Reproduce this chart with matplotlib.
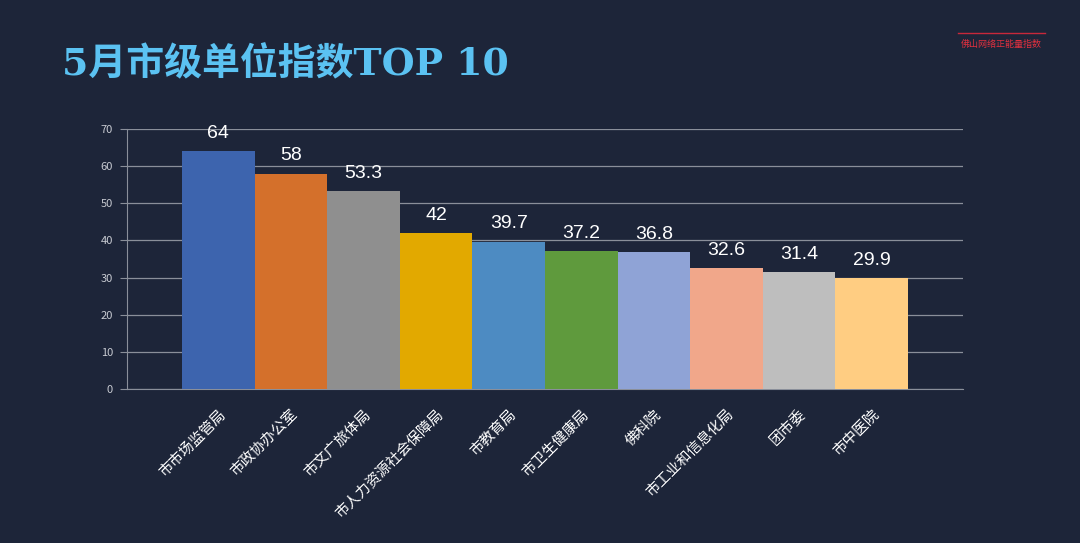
import matplotlib
matplotlib.use("Agg")
import matplotlib.pyplot as plt

plt.rcParams['font.family'] = ['Noto Sans CJK SC', 'DejaVu Sans']

categories = ["市市场监管局", "市政协办公室", "市文广旅体局", "市人力资源社会保障局", "市教育局",
              "市卫生健康局", "佛科院", "市工业和信息化局", "团市委", "市中医院"]
values = [64, 58, 53.3, 42, 39.7, 37.2, 36.8, 32.6, 31.4, 29.9]
value_labels = ["64", "58", "53.3", "42", "39.7", "37.2", "36.8", "32.6", "31.4", "29.9"]
colors = ["#3d64ae", "#d4702b", "#8f8f8f", "#e2a900", "#4d8bc2",
          "#5f9a3d", "#8fa3d6", "#f1a78a", "#bebebe", "#ffcd82"]
yticks = [0, 10, 20, 30, 40, 50, 60, 70]

bg = "#1d2539"
fig = plt.figure(figsize=(10.8, 5.43), dpi=100, facecolor=bg)
ax = fig.add_axes([127/1080, 1-389/543, (963-127)/1080, (389-129)/543])
ax.set_facecolor(bg)

x = list(range(len(categories)))
ax.bar(x, values, width=1.0, color=colors, zorder=3)
for xi, v, lab in zip(x, values, value_labels):
    ax.text(xi, v + 2.5, lab, ha='center', va='bottom', color='white', fontsize=14,
            family=['Liberation Sans', 'DejaVu Sans'], zorder=4)

ax.set_ylim(0, 70)
ax.set_xlim(-1.257, len(categories) - 1 + 1.257)
ax.set_yticks(yticks)
ax.set_yticklabels([str(t) for t in yticks], color='#c8cbd2', fontsize=8)
ax.yaxis.grid(True, color='#8a8f9a', linewidth=0.9, zorder=1)
ax.tick_params(axis='y', length=5, color='#8a8f9a', pad=5)
ax.set_xticks(x)
ax.set_xticklabels(categories, rotation=45, ha='right', rotation_mode='anchor',
                   color='white', fontsize=10.5)
ax.tick_params(axis='x', length=0, pad=13)
for s in ['top', 'right']:
    ax.spines[s].set_visible(False)
ax.spines['left'].set_color('#8a8f9a')
ax.spines['bottom'].set_color('#8a8f9a')

fig.text(62/1080, 1-65/543, "5月市级单位指数TOP 10", color='#5bc2f2', fontsize=27.3,
         fontweight='bold', va='center', ha='left',
         family=['DejaVu Serif', 'Noto Sans CJK SC'])
fig.add_artist(plt.Line2D([958/1080, 1045/1080], [1-33/543, 1-33/543],
                          color='#c8283a', linewidth=1.0))
fig.text(1001/1080, 1-44/543, "佛山网络正能量指数", color='#e0303f', fontsize=6.5,
         va='center', ha='center')

fig.savefig("out.png", dpi=100, facecolor=bg)
